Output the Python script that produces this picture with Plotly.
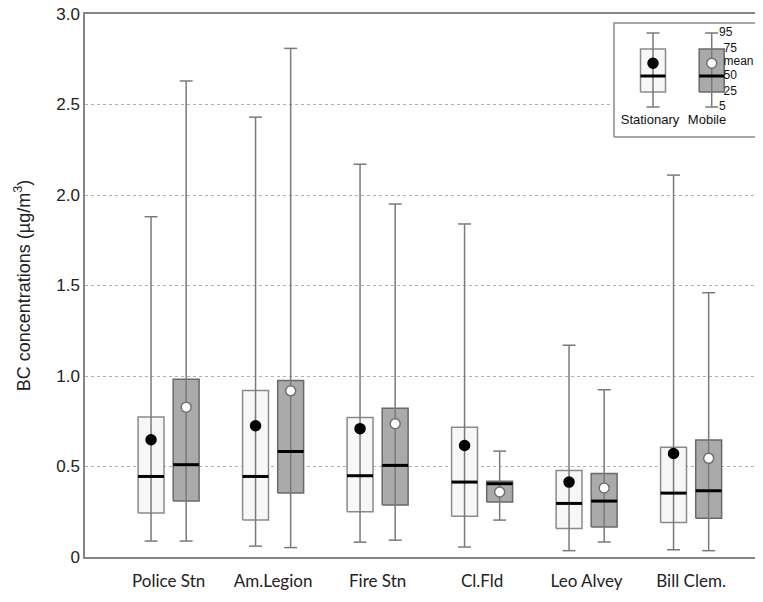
import plotly.graph_objects as go

# ---------------- data ----------------
categories = ["Police Stn", "Am.Legion", "Fire Stn", "Cl.Fld", "Leo Alvey", "Bill Clem."]

stat_p5 = [0.088, 0.060, 0.082, 0.055, 0.035, 0.040]
stat_q1 = [0.243, 0.204, 0.250, 0.225, 0.157, 0.190]
stat_med = [0.445, 0.445, 0.449, 0.414, 0.296, 0.353]
stat_q3 = [0.773, 0.920, 0.771, 0.717, 0.478, 0.607]
stat_p95 = [1.88, 2.43, 2.17, 1.84, 1.17, 2.11]
stat_mean = [0.648, 0.725, 0.709, 0.616, 0.414, 0.572]

mob_p5 = [0.088, 0.052, 0.093, 0.204, 0.083, 0.035]
mob_q1 = [0.309, 0.353, 0.287, 0.304, 0.166, 0.214]
mob_med = [0.510, 0.583, 0.506, 0.405, 0.309, 0.366]
mob_q3 = [0.982, 0.975, 0.822, 0.419, 0.462, 0.646]
mob_p95 = [2.63, 2.81, 1.95, 0.585, 0.924, 1.46]
mob_mean = [0.828, 0.918, 0.736, 0.359, 0.381, 0.545]

y_tickvals = [0, 0.5, 1.0, 1.5, 2.0, 2.5, 3.0]
y_ticktext = ["0", "0.5", "1.0", "1.5", "2.0", "2.5", "3.0"]

# key (legend) sample: a schematic box in key units
key_names = ["Stationary", "Mobile"]
key_p5 = [30, 30]
key_q1 = [45, 45]
key_med = [61, 61]
key_mean = [73.7, 73.7]
key_q3 = [88, 88]
key_p95 = [104, 104]
key_labels = ["95", "75", "mean", "50", "25", "5"]
key_label_levels = [104, 88, 75.3, 61, 45, 30]

# ---------------- styles ----------------
STAT_FILL, STAT_LINE = "#f7f7f7", "#8a8a8a"
MOB_FILL, MOB_LINE = "#aaaaaa", "#6a6a6a"
WHISKER = "#7a7a7a"

fig = go.Figure()


def add_boxes(xs, p5, q1, med, q3, p95, mean, fill, outline, mfill, mline,
              halfw, caphw, msize, xa="x", ya="y"):
    bx, by, wx, wy, mx, my = [], [], [], [], [], []
    for x, a, b, c, d, e in zip(xs, p5, q1, med, q3, p95):
        bx += [x - halfw, x + halfw, x + halfw, x - halfw, x - halfw, None]
        by += [b, b, d, d, b, None]
        wx += [x, x, None, x - caphw, x + caphw, None, x - caphw, x + caphw, None]
        wy += [a, e, None, a, a, None, e, e, None]
        mx += [x - halfw, x + halfw, None]
        my += [c, c, None]
    fig.add_trace(go.Scatter(x=bx, y=by, mode="lines", fill="toself", fillcolor=fill,
                             line=dict(color=outline, width=1.5), xaxis=xa, yaxis=ya,
                             hoverinfo="skip", showlegend=False))
    fig.add_trace(go.Scatter(x=wx, y=wy, mode="lines",
                             line=dict(color=WHISKER, width=1.5), xaxis=xa, yaxis=ya,
                             hoverinfo="skip", showlegend=False))
    fig.add_trace(go.Scatter(x=mx, y=my, mode="lines",
                             line=dict(color="#000000", width=3), xaxis=xa, yaxis=ya,
                             hoverinfo="skip", showlegend=False))
    fig.add_trace(go.Scatter(x=list(xs), y=list(mean), mode="markers",
                             marker=dict(size=msize, color=mfill, line=dict(color=mline, width=1.5)),
                             xaxis=xa, yaxis=ya, hoverinfo="skip", showlegend=False))


idx = list(range(len(categories)))
off = 0.168
add_boxes([i - off for i in idx], stat_p5, stat_q1, stat_med, stat_q3, stat_p95, stat_mean,
          STAT_FILL, STAT_LINE, "#000000", "#000000", 0.124, 0.062, 10)
add_boxes([i + off for i in idx], mob_p5, mob_q1, mob_med, mob_q3, mob_p95, mob_mean,
          MOB_FILL, MOB_LINE, "#ffffff", "#707070", 0.124, 0.062, 10)

# ---------------- key panel ----------------
fig.add_trace(go.Scatter(x=[0, 200, 200, 0, 0], y=[0, 0, 114, 114, 0], mode="lines",
                         fill="toself", fillcolor="#ffffff", line=dict(color="#8a8a8a", width=1.5),
                         xaxis="x2", yaxis="y2", hoverinfo="skip", showlegend=False))
key_x = [39, 97.7]
add_boxes([key_x[0]], key_p5[:1], key_q1[:1], key_med[:1], key_q3[:1], key_p95[:1], key_mean[:1],
          STAT_FILL, STAT_LINE, "#000000", "#000000", 12.5, 6.5, 10, "x2", "y2")
add_boxes([key_x[1]], key_p5[1:], key_q1[1:], key_med[1:], key_q3[1:], key_p95[1:], key_mean[1:],
          MOB_FILL, MOB_LINE, "#ffffff", "#707070", 12.5, 6.5, 10, "x2", "y2")
label_x = [105 if t in ("95", "5") else 109.5 for t in key_labels]
fig.add_trace(go.Scatter(x=label_x, y=key_label_levels, mode="text", text=key_labels,
                         textposition="middle right", cliponaxis=False,
                         textfont=dict(family="Liberation Sans", size=12, color="#111111"),
                         xaxis="x2", yaxis="y2", hoverinfo="skip", showlegend=False))
fig.add_trace(go.Scatter(x=[36, 93], y=[16, 16], mode="text", text=key_names,
                         textposition="middle center", cliponaxis=False,
                         textfont=dict(family="Liberation Sans", size=13, color="#111111"),
                         xaxis="x2", yaxis="y2", hoverinfo="skip", showlegend=False))

# the page places the figure 8px in from the top-left corner, so the figure is
# sized to fill exactly the rest of the 763x602 window
fig.update_layout(
    width=755, height=594,
    margin=dict(l=77, r=0, t=6, b=45),
    paper_bgcolor="white", plot_bgcolor="white",
    showlegend=False,
    xaxis=dict(range=[-0.8, 5.688], tickvals=idx, ticktext=categories,
               tickfont=dict(family="Lato", size=17, color="#222222"),
               showgrid=False, zeroline=False, showline=True, linecolor="#858585",
               linewidth=2, mirror=True, ticks="outside", ticklen=8,
               tickcolor="rgba(0,0,0,0)", automargin=False),
    yaxis=dict(range=[0, 3.0], tickvals=y_tickvals, ticktext=y_ticktext,
               tickfont=dict(family="Liberation Sans", size=17, color="#222222"),
               ticklabeloverflow="allow",
               showgrid=True, gridcolor="#b0b0b0", griddash="dot", gridwidth=1,
               zeroline=False, showline=True, linecolor="#858585", linewidth=1.5,
               ticks="", automargin=False,
               title=dict(text="BC concentrations (µg/m<sup>3</sup>)",
                          font=dict(family="Liberation Sans", size=18, color="#222222"),
                          standoff=21)),
    xaxis2=dict(domain=[0.7773, 1.0], range=[-2, 149], visible=False, anchor="y2"),
    yaxis2=dict(domain=[0.7698, 0.9871], range=[-2, 116], visible=False, anchor="x2"),
)

fig.write_html("out.html")
